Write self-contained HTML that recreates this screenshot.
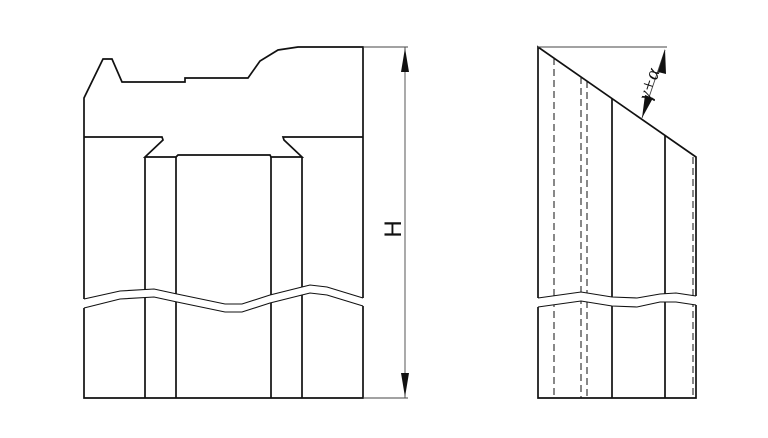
<!DOCTYPE html>
<html><head><style>html,body{margin:0;padding:0;background:#fff;width:768px;height:438px;overflow:hidden}</style></head>
<body>
<svg width="768" height="438" viewBox="0 0 768 438" xmlns="http://www.w3.org/2000/svg">
<g fill="none" stroke="#111" stroke-width="1.7" stroke-linejoin="miter">
<polyline points="84,299 84,98 103,59 112,59 122,82 185,82 185,78 248,78 260,61 278,50 298,47 363,47 363,298"/>
<polyline points="84,137 162,137 163,140 145,157 176,157 178,155 270,155 271,157 302,157 284,140 283,137 363,137"/>
<line x1="145" y1="157" x2="145" y2="398"/>
<line x1="302" y1="157" x2="302" y2="398"/>
<line x1="176" y1="157" x2="176" y2="398"/>
<line x1="271" y1="157" x2="271" y2="398"/>
<polyline points="84,308 84,398 363,398 363,306"/>
<polyline points="538,298 538,47 696,157 696,296"/>
<line x1="612" y1="99" x2="612" y2="398"/>
<line x1="665" y1="136" x2="665" y2="398"/>
<polyline points="538,307 538,398 696,398 696,305"/>
<g stroke-dasharray="7,4" stroke-width="1">
<line x1="554" y1="58" x2="554" y2="398"/>
<line x1="581" y1="77" x2="581" y2="398"/>
<line x1="587" y1="81" x2="587" y2="398"/>
<line x1="693" y1="157" x2="693" y2="398"/>
</g>
</g>
<g fill="#fff" stroke="none">
<polygon points="84,299 120,291 154,289 177,294 225,304 242,304 270,295 302,287 310,285 327,287 363,298 363,306 327,295 310,293 302,295 270,303 242,312 225,312 177,302 154,297 120,299 84,308"/>
<polygon points="538,298 581,292 612,297 637,298 660,294 676,293 696,296 696,305 676,302 660,302 637,307 612,306 581,301 538,307"/>
</g>
<g fill="none" stroke="#111" stroke-width="1.1">
<path d="M84,299 L120,291 L154,289 L177,294 L225,304 L242,304 L270,295 L302,287 L310,285 L327,287 L363,298"/>
<path d="M84,308 L120,299 L154,297 L177,302 L225,312 L242,312 L270,303 L302,295 L310,293 L327,295 L363,306"/>
<path d="M538,298 L581,292 L612,297 L637,298 L660,294 L676,293 L696,296"/>
<path d="M538,307 L581,301 L612,306 L637,307 L660,302 L676,302 L696,305"/>
</g>
<g stroke="#444" stroke-width="0.9" fill="none">
<line x1="363" y1="47" x2="408" y2="47"/>
<line x1="363" y1="398" x2="408" y2="398"/>
<line x1="405" y1="47" x2="405" y2="398"/>
<line x1="538" y1="47" x2="667" y2="47"/>
<line x1="665" y1="50" x2="642" y2="118"/>
</g>
<polygon points="405,48 401,72 409,72" fill="#111"/>
<polygon points="405,397 401,373 409,373" fill="#111"/>
<polygon points="665,49 658,72 666,74" fill="#111"/>
<polygon points="642,118 645,95 653,98" fill="#111"/>
<text x="0" y="0" transform="translate(401,229) rotate(-90)" font-family="Liberation Sans, sans-serif" font-size="24" text-anchor="middle" fill="#111">H</text>
<text x="0" y="0" transform="translate(655,86) rotate(-72)" font-family="Liberation Serif, serif" font-style="italic" font-size="20" text-anchor="middle" fill="#111">γ+α</text>
</svg>
</body></html>
